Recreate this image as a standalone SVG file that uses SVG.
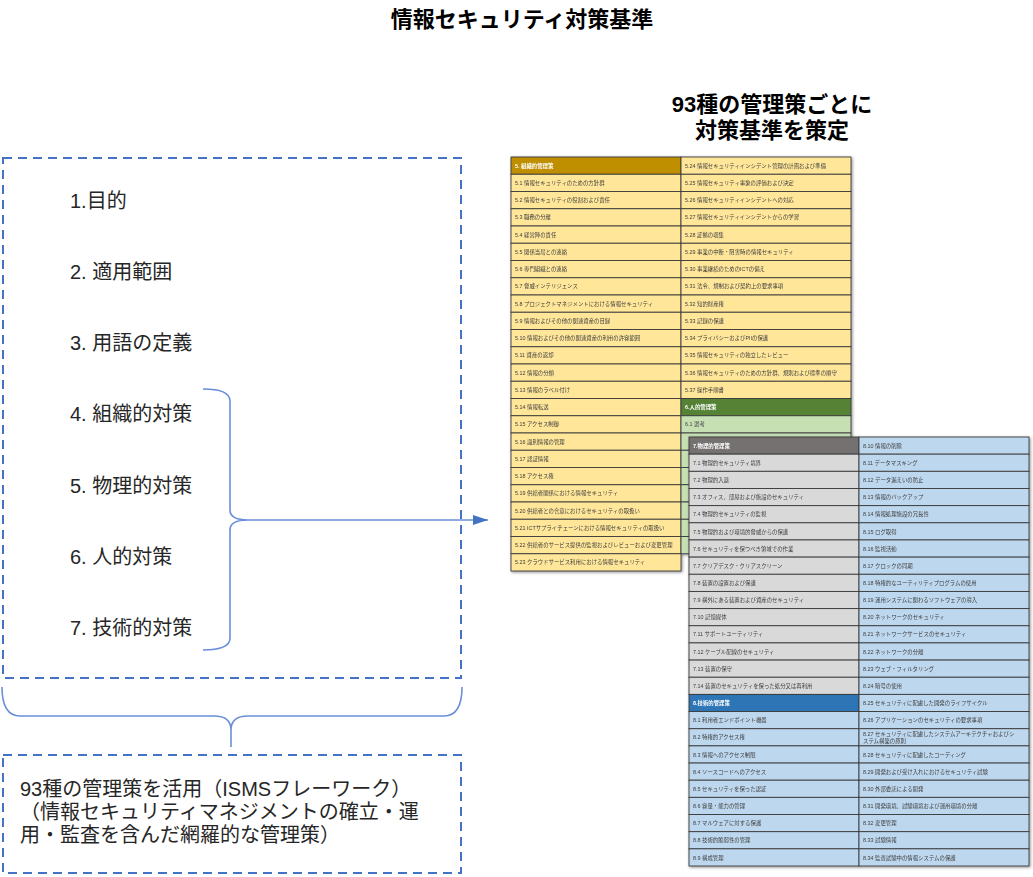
<svg xmlns="http://www.w3.org/2000/svg" width="1033" height="877" viewBox="0 0 1033 877">
<style>
.ttl{font-family:"Liberation Sans","Noto Sans CJK JP",sans-serif;font-size:22px;font-weight:bold;fill:#000;text-anchor:middle}
.itm{font-family:"Liberation Sans","Noto Sans CJK JP",sans-serif;font-size:20px;fill:#262626}
.box{fill:none;stroke:#4472C4;stroke-width:2;stroke-dasharray:9 6}
.br{fill:none;stroke:#6A8FD8;stroke-width:1.6}
.c{stroke:#3b3b3b;stroke-width:0.9}
.cy{fill:#FFE699}.hy{fill:#BF8F00}.cg{fill:#C6E0B4}.hg{fill:#548235}
.cgr{fill:#D9D9D9}.hgr{fill:#767171}.cb{fill:#BDD7EE}.hb{fill:#2E75B6}
.t{font-family:"Liberation Sans","Noto Sans CJK JP",sans-serif;font-size:5.4px;fill:#404040}
.th{font-family:"Liberation Sans","Noto Sans CJK JP",sans-serif;font-size:5.4px;fill:#fff;font-weight:bold}
</style>
<defs>
<marker id="ah" markerWidth="16" markerHeight="10" refX="15" refY="5" orient="auto" markerUnits="userSpaceOnUse"><path d="M0,0 L15,5 L0,10 Z" fill="#4472C4"/></marker>
<filter id="sh" x="-5%" y="-5%" width="110%" height="110%"><feGaussianBlur in="SourceAlpha" stdDeviation="1.5"/><feOffset dx="1" dy="1" result="b"/><feFlood flood-color="#000" flood-opacity="0.45"/><feComposite in2="b" operator="in"/><feMerge><feMergeNode/><feMergeNode in="SourceGraphic"/></feMerge></filter>
</defs>
<rect width="1033" height="877" fill="#fff"/>

<g id="title"><text class="ttl" x="522" y="27">情報セキュリティ対策基準</text></g>
<g id="subtitle"><text class="ttl" x="772" y="112">93種の管理策ごとに</text><text class="ttl" x="772" y="138">対策基準を策定</text></g>

<g id="standard-box">
<rect class="box" x="3" y="158" width="458" height="520"/>
<text class="itm" x="70" y="208">1.目的</text>
<text class="itm" x="70" y="279">2. 適用範囲</text>
<text class="itm" x="70" y="350">3. 用語の定義</text>
<text class="itm" x="70" y="421">4. 組織的対策</text>
<text class="itm" x="70" y="493">5. 物理的対策</text>
<text class="itm" x="70" y="564">6. 人的対策</text>
<text class="itm" x="70" y="635">7. 技術的対策</text>
</g>

<g id="isms-box">
<rect class="box" x="3" y="755" width="458" height="118"/>
<text class="itm" x="20" y="796">93種の管理策を活用（ISMSフレーワーク）</text>
<text class="itm" x="20" y="819">（情報セキュリティマネジメントの確立・運</text>
<text class="itm" x="20" y="842">用・監査を含んだ網羅的な管理策）</text>
</g>

<g id="connectors">
<path class="br" d="M203,389 Q230,389 230,401 L230,510 Q230,520 248,520 Q230,520 230,530 L230,638 Q230,650 203,650"/>
<path class="br" d="M248,520 L488,520" stroke="#4472C4" marker-end="url(#ah)"/>
<path class="br" d="M2,687 Q2,716 20,716 L214,716 Q231,716 231,730 L231,747 M231,730 Q231,716 248,716 L444,716 Q462,716 462,687"/>
</g>

<g id="table-org" filter="url(#sh)">
<g class="c">
<rect class="hy" x="511" y="157" width="170" height="17.25"/>
<rect class="cy" x="511" y="174.25" width="170" height="17.25"/>
<rect class="cy" x="511" y="191.5" width="170" height="17.25"/>
<rect class="cy" x="511" y="208.75" width="170" height="17.25"/>
<rect class="cy" x="511" y="226" width="170" height="17.25"/>
<rect class="cy" x="511" y="243.25" width="170" height="17.25"/>
<rect class="cy" x="511" y="260.5" width="170" height="17.25"/>
<rect class="cy" x="511" y="277.75" width="170" height="17.25"/>
<rect class="cy" x="511" y="295" width="170" height="17.25"/>
<rect class="cy" x="511" y="312.25" width="170" height="17.25"/>
<rect class="cy" x="511" y="329.5" width="170" height="17.25"/>
<rect class="cy" x="511" y="346.75" width="170" height="17.25"/>
<rect class="cy" x="511" y="364" width="170" height="17.25"/>
<rect class="cy" x="511" y="381.25" width="170" height="17.25"/>
<rect class="cy" x="511" y="398.5" width="170" height="17.25"/>
<rect class="cy" x="511" y="415.75" width="170" height="17.25"/>
<rect class="cy" x="511" y="433" width="170" height="17.25"/>
<rect class="cy" x="511" y="450.25" width="170" height="17.25"/>
<rect class="cy" x="511" y="467.5" width="170" height="17.25"/>
<rect class="cy" x="511" y="484.75" width="170" height="17.25"/>
<rect class="cy" x="511" y="502" width="170" height="17.25"/>
<rect class="cy" x="511" y="519.25" width="170" height="17.25"/>
<rect class="cy" x="511" y="536.5" width="170" height="17.25"/>
<rect class="cy" x="511" y="553.75" width="170" height="17.25"/>
<rect class="cy" x="681" y="157" width="170" height="17.25"/>
<rect class="cy" x="681" y="174.25" width="170" height="17.25"/>
<rect class="cy" x="681" y="191.5" width="170" height="17.25"/>
<rect class="cy" x="681" y="208.75" width="170" height="17.25"/>
<rect class="cy" x="681" y="226" width="170" height="17.25"/>
<rect class="cy" x="681" y="243.25" width="170" height="17.25"/>
<rect class="cy" x="681" y="260.5" width="170" height="17.25"/>
<rect class="cy" x="681" y="277.75" width="170" height="17.25"/>
<rect class="cy" x="681" y="295" width="170" height="17.25"/>
<rect class="cy" x="681" y="312.25" width="170" height="17.25"/>
<rect class="cy" x="681" y="329.5" width="170" height="17.25"/>
<rect class="cy" x="681" y="346.75" width="170" height="17.25"/>
<rect class="cy" x="681" y="364" width="170" height="17.25"/>
<rect class="cy" x="681" y="381.25" width="170" height="17.25"/>
<rect class="hg" x="681" y="398.5" width="170" height="17.25"/>
<rect class="cg" x="681" y="415.75" width="170" height="17.25"/>
<rect class="cg" x="681" y="433" width="170" height="17.25"/>
<rect class="cg" x="681" y="450.25" width="170" height="17.25"/>
<rect class="cg" x="681" y="467.5" width="170" height="17.25"/>
<rect class="cg" x="681" y="484.75" width="170" height="17.25"/>
<rect class="cg" x="681" y="502" width="170" height="17.25"/>
<rect class="cg" x="681" y="519.25" width="170" height="17.25"/>
<rect class="cg" x="681" y="536.5" width="170" height="17.25"/>
</g>
<text class="th" x="515" y="167.7">5. 組織的管理策</text>
<text class="t" x="515" y="184.95">5.1 情報セキュリティのための方針群</text>
<text class="t" x="515" y="202.2">5.2 情報セキュリティの役割および責任</text>
<text class="t" x="515" y="219.45">5.3 職務の分離</text>
<text class="t" x="515" y="236.7">5.4 経営陣の責任</text>
<text class="t" x="515" y="253.95">5.5 関係当局との連絡</text>
<text class="t" x="515" y="271.2">5.6 専門組織との連絡</text>
<text class="t" x="515" y="288.45">5.7 脅威インテリジェンス</text>
<text class="t" x="515" y="305.7">5.8 プロジェクトマネジメントにおける情報セキュリティ</text>
<text class="t" x="515" y="322.95">5.9 情報およびその他の関連資産の目録</text>
<text class="t" x="515" y="340.2">5.10 情報およびその他の関連資産の利用の許容範囲</text>
<text class="t" x="515" y="357.45">5.11 資産の返却</text>
<text class="t" x="515" y="374.7">5.12 情報の分類</text>
<text class="t" x="515" y="391.95">5.13 情報のラベル付け</text>
<text class="t" x="515" y="409.2">5.14 情報転送</text>
<text class="t" x="515" y="426.45">5.15 アクセス制御</text>
<text class="t" x="515" y="443.7">5.16 識別情報の管理</text>
<text class="t" x="515" y="460.95">5.17 認証情報</text>
<text class="t" x="515" y="478.2">5.18 アクセス権</text>
<text class="t" x="515" y="495.45">5.19 供給者関係における情報セキュリティ</text>
<text class="t" x="515" y="512.7">5.20 供給者との合意におけるセキュリティの取扱い</text>
<text class="t" x="515" y="529.95">5.21 ICTサプライチェーンにおける情報セキュリティの取扱い</text>
<text class="t" x="515" y="547.2">5.22 供給者のサービス提供の監視およびレビューおよび変更管理</text>
<text class="t" x="515" y="564.45">5.23 クラウドサービス利用における情報セキュリティ</text>
<text class="t" x="685" y="167.7">5.24 情報セキュリティインシデント管理の計画および準備</text>
<text class="t" x="685" y="184.95">5.25 情報セキュリティ事象の評価および決定</text>
<text class="t" x="685" y="202.2">5.26 情報セキュリティインシデントへの対応</text>
<text class="t" x="685" y="219.45">5.27 情報セキュリティインシデントからの学習</text>
<text class="t" x="685" y="236.7">5.28 証拠の収集</text>
<text class="t" x="685" y="253.95">5.29 事業の中断・阻害時の情報セキュリティ</text>
<text class="t" x="685" y="271.2">5.30 事業継続のためのICTの備え</text>
<text class="t" x="685" y="288.45">5.31 法令、規制および契約上の要求事項</text>
<text class="t" x="685" y="305.7">5.32 知的財産権</text>
<text class="t" x="685" y="322.95">5.33 記録の保護</text>
<text class="t" x="685" y="340.2">5.34 プライバシーおよびPIIの保護</text>
<text class="t" x="685" y="357.45">5.35 情報セキュリティの独立したレビュー</text>
<text class="t" x="685" y="374.7">5.36 情報セキュリティのための方針群、規則および標準の順守</text>
<text class="t" x="685" y="391.95">5.37 操作手順書</text>
<text class="th" x="685" y="409.2">6.人的管理策</text>
<text class="t" x="685" y="426.45">6.1 選考</text>
</g>

<g id="table-phys-tech" filter="url(#sh)">
<g class="c">
<rect class="hgr" x="689" y="437" width="170" height="17.16"/>
<rect class="cgr" x="689" y="454.16" width="170" height="17.16"/>
<rect class="cgr" x="689" y="471.32" width="170" height="17.16"/>
<rect class="cgr" x="689" y="488.48" width="170" height="17.16"/>
<rect class="cgr" x="689" y="505.64" width="170" height="17.16"/>
<rect class="cgr" x="689" y="522.8" width="170" height="17.16"/>
<rect class="cgr" x="689" y="539.96" width="170" height="17.16"/>
<rect class="cgr" x="689" y="557.12" width="170" height="17.16"/>
<rect class="cgr" x="689" y="574.28" width="170" height="17.16"/>
<rect class="cgr" x="689" y="591.44" width="170" height="17.16"/>
<rect class="cgr" x="689" y="608.6" width="170" height="17.16"/>
<rect class="cgr" x="689" y="625.76" width="170" height="17.16"/>
<rect class="cgr" x="689" y="642.92" width="170" height="17.16"/>
<rect class="cgr" x="689" y="660.08" width="170" height="17.16"/>
<rect class="cgr" x="689" y="677.24" width="170" height="17.16"/>
<rect class="hb" x="689" y="694.4" width="170" height="17.16"/>
<rect class="cb" x="689" y="711.56" width="170" height="17.16"/>
<rect class="cb" x="689" y="728.72" width="170" height="17.16"/>
<rect class="cb" x="689" y="745.88" width="170" height="17.16"/>
<rect class="cb" x="689" y="763.04" width="170" height="17.16"/>
<rect class="cb" x="689" y="780.2" width="170" height="17.16"/>
<rect class="cb" x="689" y="797.36" width="170" height="17.16"/>
<rect class="cb" x="689" y="814.52" width="170" height="17.16"/>
<rect class="cb" x="689" y="831.68" width="170" height="17.16"/>
<rect class="cb" x="689" y="848.84" width="170" height="17.16"/>
<rect class="cb" x="859" y="437" width="170" height="17.16"/>
<rect class="cb" x="859" y="454.16" width="170" height="17.16"/>
<rect class="cb" x="859" y="471.32" width="170" height="17.16"/>
<rect class="cb" x="859" y="488.48" width="170" height="17.16"/>
<rect class="cb" x="859" y="505.64" width="170" height="17.16"/>
<rect class="cb" x="859" y="522.8" width="170" height="17.16"/>
<rect class="cb" x="859" y="539.96" width="170" height="17.16"/>
<rect class="cb" x="859" y="557.12" width="170" height="17.16"/>
<rect class="cb" x="859" y="574.28" width="170" height="17.16"/>
<rect class="cb" x="859" y="591.44" width="170" height="17.16"/>
<rect class="cb" x="859" y="608.6" width="170" height="17.16"/>
<rect class="cb" x="859" y="625.76" width="170" height="17.16"/>
<rect class="cb" x="859" y="642.92" width="170" height="17.16"/>
<rect class="cb" x="859" y="660.08" width="170" height="17.16"/>
<rect class="cb" x="859" y="677.24" width="170" height="17.16"/>
<rect class="cb" x="859" y="694.4" width="170" height="17.16"/>
<rect class="cb" x="859" y="711.56" width="170" height="17.16"/>
<rect class="cb" x="859" y="728.72" width="170" height="17.16"/>
<rect class="cb" x="859" y="745.88" width="170" height="17.16"/>
<rect class="cb" x="859" y="763.04" width="170" height="17.16"/>
<rect class="cb" x="859" y="780.2" width="170" height="17.16"/>
<rect class="cb" x="859" y="797.36" width="170" height="17.16"/>
<rect class="cb" x="859" y="814.52" width="170" height="17.16"/>
<rect class="cb" x="859" y="831.68" width="170" height="17.16"/>
<rect class="cb" x="859" y="848.84" width="170" height="17.16"/>
</g>
<text class="th" x="693" y="447.7">7.物理的管理策</text>
<text class="t" x="693" y="464.86">7.1 物理的セキュリティ境界</text>
<text class="t" x="693" y="482.02">7.2 物理的入退</text>
<text class="t" x="693" y="499.18">7.3 オフィス、部屋および施設のセキュリティ</text>
<text class="t" x="693" y="516.34">7.4 物理的セキュリティの監視</text>
<text class="t" x="693" y="533.5">7.5 物理的および環境的脅威からの保護</text>
<text class="t" x="693" y="550.66">7.6 セキュリティを保つべき領域での作業</text>
<text class="t" x="693" y="567.82">7.7 クリアデスク・クリアスクリーン</text>
<text class="t" x="693" y="584.98">7.8 装置の設置および保護</text>
<text class="t" x="693" y="602.14">7.9 構外にある装置および資産のセキュリティ</text>
<text class="t" x="693" y="619.3">7.10 記憶媒体</text>
<text class="t" x="693" y="636.46">7.11 サポートユーティリティ</text>
<text class="t" x="693" y="653.62">7.12 ケーブル配線のセキュリティ</text>
<text class="t" x="693" y="670.78">7.13 装置の保守</text>
<text class="t" x="693" y="687.94">7.14 装置のセキュリティを保った処分又は再利用</text>
<text class="th" x="693" y="705.1">8.技術的管理策</text>
<text class="t" x="693" y="722.26">8.1 利用者エンドポイント機器</text>
<text class="t" x="693" y="739.42">8.2 特権的アクセス権</text>
<text class="t" x="693" y="756.58">8.3 情報へのアクセス制限</text>
<text class="t" x="693" y="773.74">8.4 ソースコードへのアクセス</text>
<text class="t" x="693" y="790.9">8.5 セキュリティを保った認証</text>
<text class="t" x="693" y="808.06">8.6 容量・能力の管理</text>
<text class="t" x="693" y="825.22">8.7 マルウェアに対する保護</text>
<text class="t" x="693" y="842.38">8.8 技術的脆弱性の管理</text>
<text class="t" x="693" y="859.54">8.9 構成管理</text>
<text class="t" x="863" y="447.7">8.10 情報の削除</text>
<text class="t" x="863" y="464.86">8.11 データマスキング</text>
<text class="t" x="863" y="482.02">8.12 データ漏えいの防止</text>
<text class="t" x="863" y="499.18">8.13 情報のバックアップ</text>
<text class="t" x="863" y="516.34">8.14 情報処理施設の冗長性</text>
<text class="t" x="863" y="533.5">8.15 ログ取得</text>
<text class="t" x="863" y="550.66">8.16 監視活動</text>
<text class="t" x="863" y="567.82">8.17 クロックの同期</text>
<text class="t" x="863" y="584.98">8.18 特権的なユーティリティプログラムの使用</text>
<text class="t" x="863" y="602.14">8.19 運用システムに関わるソフトウェアの導入</text>
<text class="t" x="863" y="619.3">8.20 ネットワークのセキュリティ</text>
<text class="t" x="863" y="636.46">8.21 ネットワークサービスのセキュリティ</text>
<text class="t" x="863" y="653.62">8.22 ネットワークの分離</text>
<text class="t" x="863" y="670.78">8.23 ウェブ・フィルタリング</text>
<text class="t" x="863" y="687.94">8.24 暗号の使用</text>
<text class="t" x="863" y="705.1">8.25 セキュリティに配慮した開発のライフサイクル</text>
<text class="t" x="863" y="722.26">8.26 アプリケーションのセキュリティの要求事項</text>
<text class="t" x="863" y="736.3">8.27 セキュリティに配慮したシステムアーキテクチャおよびシ</text>
<text class="t" x="863" y="743.3">ステム構築の原則</text>
<text class="t" x="863" y="756.58">8.28 セキュリティに配慮したコーディング</text>
<text class="t" x="863" y="773.74">8.29 開発および受け入れにおけるセキュリティ試験</text>
<text class="t" x="863" y="790.9">8.30 外部委託による開発</text>
<text class="t" x="863" y="808.06">8.31 開発環境、試験環境および運用環境の分離</text>
<text class="t" x="863" y="825.22">8.32 変更管理</text>
<text class="t" x="863" y="842.38">8.33 試験情報</text>
<text class="t" x="863" y="859.54">8.34 監査試験中の情報システムの保護</text>
</g>
</svg>
